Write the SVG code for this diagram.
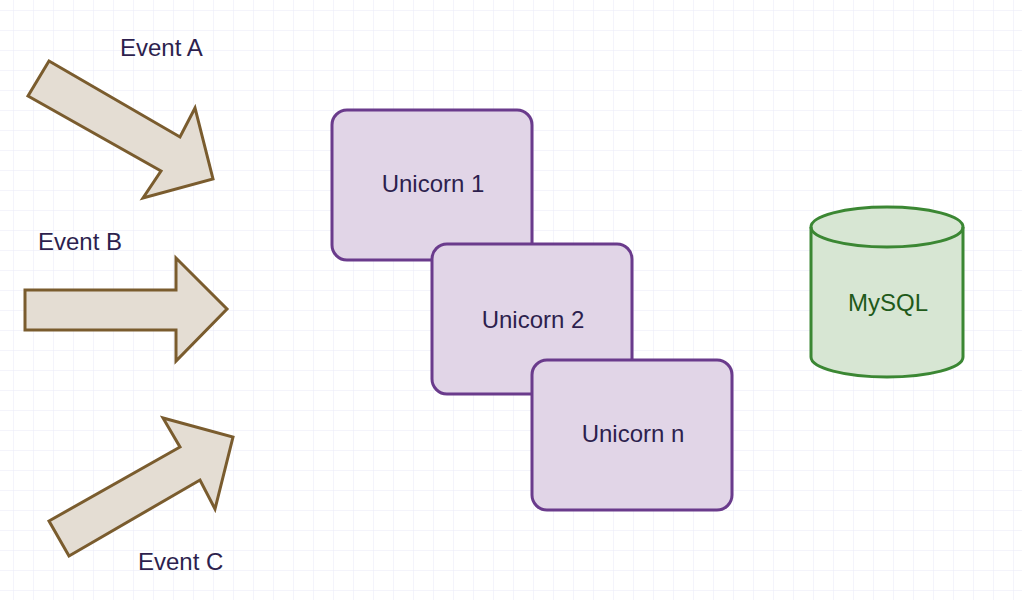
<svg xmlns="http://www.w3.org/2000/svg" width="1022" height="600" viewBox="0 0 1022 600">
<defs>
<pattern id="grid" x="13" y="10" width="20" height="20" patternUnits="userSpaceOnUse">
<path d="M0 0H20M0 0V20" fill="none" stroke="#e9e9f8" stroke-width="1"/>
</pattern>
</defs>
<style>
.arrow{fill:#e4ddd3;stroke:#7a5c2e;stroke-width:3;stroke-linejoin:miter}
.box{fill:#e1d5e7;stroke:#6a3b8c;stroke-width:3}
.lbl{font-family:"Liberation Sans",Arial,sans-serif;font-size:24px;fill:#2d1f4e}
.db{fill:#d7e6d3;stroke:#3b8733;stroke-width:3}
.dbt{font-family:"Liberation Sans",Arial,sans-serif;font-size:24px;fill:#1f5a1a}
</style>
<rect width="1022" height="600" fill="#ffffff"/>
<rect width="1022" height="600" fill="url(#grid)"/>
<g id="connectors">
<g id="event-a">
<polygon class="arrow" points="49,61 180,137 195,108 213,179 143,198 161,171 28,96"/>
<text class="lbl" x="120" y="56">Event A</text>
</g>
<g id="event-b">
<polygon class="arrow" points="25,290 176,290 176,258 227,309 176,361 176,330 25,330"/>
<text class="lbl" x="38" y="250">Event B</text>
</g>
<g id="event-c">
<polygon class="arrow" points="49,521 180,447 163,418 233,437 215,509 200,480 69,556"/>
<text class="lbl" x="138" y="570">Event C</text>
</g>
</g>
<g id="unicorn-1">
<rect class="box" x="332" y="110" width="200" height="150" rx="15"/>
<text class="lbl" x="433" y="192" text-anchor="middle">Unicorn 1</text>
</g>
<g id="unicorn-2">
<rect class="box" x="432" y="244" width="200" height="150" rx="15"/>
<text class="lbl" x="533" y="328" text-anchor="middle">Unicorn 2</text>
</g>
<g id="unicorn-n">
<rect class="box" x="532" y="360" width="200" height="150" rx="15"/>
<text class="lbl" x="633" y="442" text-anchor="middle">Unicorn n</text>
</g>
<g id="mysql">
<path class="db" d="M811,227 A76,20 0 0 1 963,227 V357 A76,20 0 0 1 811,357 Z"/>
<path class="db" d="M811,227 A76,20 0 0 0 963,227" style="fill:none"/>
<text class="dbt" x="888" y="311" text-anchor="middle">MySQL</text>
</g>
</svg>
